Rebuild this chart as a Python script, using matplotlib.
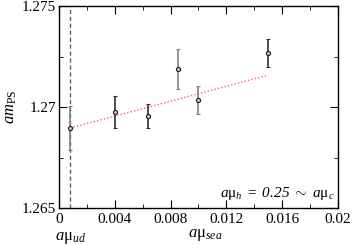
import matplotlib.pyplot as plt
import numpy as np
from matplotlib.ticker import MultipleLocator

plt.rcParams['font.family'] = ['Liberation Serif', 'DejaVu Serif']
plt.rcParams['mathtext.fontset'] = 'custom'
plt.rcParams['mathtext.rm'] = 'Liberation Serif'
plt.rcParams['mathtext.it'] = 'Liberation Serif:italic'
plt.rcParams['mathtext.sf'] = 'Liberation Serif:italic'

# data
mu_sea = [0.0008, 0.004, 0.0064, 0.0085, 0.01, 0.015]
am_ps = [1.26896, 1.26975, 1.26955, 1.27188, 1.27035, 1.27267]
err = [0.0011, 0.00077, 0.0006, 0.001, 0.0007, 0.0007]
bar_cols = ['#808080', '#303030', '#303030', '#808080', '#808080', '#303030']
fit_x = [0.0008, 0.015]
fit_y = [1.26896, 1.27158]
mu_ud = 0.0008

fig = plt.figure(figsize=(3.54, 2.45), dpi=100)
ax = fig.add_axes([0.1667, 0.151, 0.788, 0.8245])

ax.axvline(mu_ud, color='#606060', ls=(0, (3, 2)), lw=1.0)
ax.plot(fit_x, fit_y, color='#ff6060', ls=(0, (1, 1.5)), lw=1.0)
for x, y, e, c in zip(mu_sea, am_ps, err, bar_cols):
    ax.errorbar(x, y, yerr=e, fmt='o', ms=3, mfc='#c0c0c0', mec='#202020',
                mew=0.8, ecolor=c, elinewidth=1.2, capsize=1.5, capthick=1.0)

ax.set_xlim(0, 0.02)
ax.set_ylim(1.265, 1.275)
ax.set_xticks([0, 0.004, 0.008, 0.012, 0.016, 0.02])
ax.set_xticklabels(['0', '0.004', '0.008', '0.012', '0.016', '0.02'])
ax.set_yticks([1.265, 1.27, 1.275])
ax.set_yticklabels(['1.265', '1.27', '1.275'])
ax.xaxis.set_minor_locator(MultipleLocator(0.002))
ax.yaxis.set_minor_locator(MultipleLocator(0.0025))
ax.tick_params(which='both', direction='in', top=True, right=True, labelsize=11)
ax.tick_params(which='major', length=6)
ax.tick_params(which='minor', length=3)
ax.tick_params(axis='y', pad=2)
for s in ax.spines.values():
    s.set_linewidth(1.0)

ax.set_ylabel(r'$am_{\mathrm{PS}}$', fontsize=12, labelpad=2)
ax.text(mu_ud, -0.11, r'$a\mathrm{\mu}_{ud}$', transform=ax.get_xaxis_transform(),
        ha='center', va='top', fontsize=12)
ax.text(0.0105, -0.095, r'$a\mathrm{\mu}_{sea}$', transform=ax.get_xaxis_transform(),
        ha='center', va='top', fontsize=12)
ax.text(0.0198, 1.2653, r'$a\mathrm{\mu}_h\ \mathrm{=}\ \mathsf{0.25}\ \mathrm{\sim}\ a\mathrm{\mu}_c$',
        ha='right', va='bottom', fontsize=11)

fig.savefig('out.png', dpi=100)
